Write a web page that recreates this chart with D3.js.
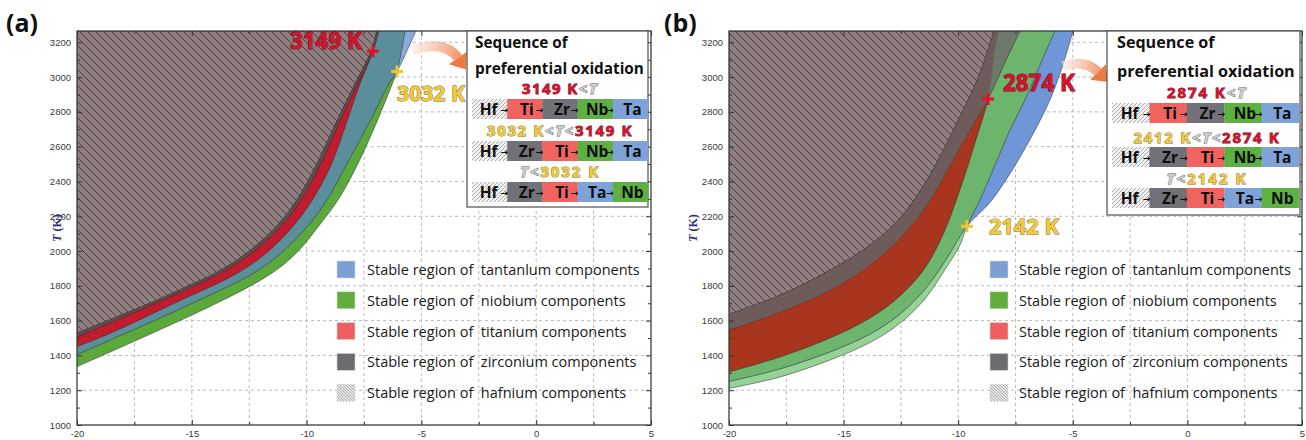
<!DOCTYPE html>
<html><head><meta charset="utf-8">
<script src="https://cdn.jsdelivr.net/npm/d3@7"></script>
<style>body{margin:0;background:#fff}svg{display:block}</style>
</head><body>
<svg id="c" width="1306" height="440"></svg>
<script>
// ---------------- DATA ----------------
const xDomain = [-20, 5];
const yDomain = [1000, 3265];
const xTicksMajor = [-20, -15, -10, -5, 0, 5];
const xTicksMinor = [-17.5, -12.5, -7.5, -2.5, 2.5];
const yTicksMajor = [1000, 1200, 1400, 1600, 1800, 2000, 2200, 2400, 2600, 2800, 3000, 3200];
const yTicksMinor = [1100, 1300, 1500, 1700, 1900, 2100, 2300, 2500, 2700, 2900, 3100];
const gridX = [-17.5, -15, -12.5, -10, -7.5, -5, -2.5, 0, 2.5];
const gridY = [1200, 1400, 1600, 1800, 2000, 2200, 2400, 2600, 2800, 3000, 3200];

// Panel (a) boundary curves  [x, T(K)]
const hfA = [[-20,1530],[-18.5,1610],[-16.83,1701],[-15.3,1792],[-13.9,1880],[-12.5,2000],[-11.2,2160],[-10.4,2300],[-9.6,2490],[-8.75,2730],[-7.9,2960],[-7.2,3149],[-6.95,3265]];
const zrA = [[-20,1505],[-16.55,1701],[-13.65,1880],[-12.27,2000],[-10.98,2160],[-10.2,2300],[-9.42,2490],[-8.6,2730],[-7.78,2960],[-7.11,3149],[-6.85,3265]];
const tiA = [[-20,1450],[-18.5,1530],[-15.74,1701],[-13.0,1874],[-11.7,1995],[-10.48,2160],[-9.72,2300],[-8.95,2490],[-8.28,2730],[-7.68,2960],[-7.11,3149],[-6.90,3265]];
const taA = [[-20,1405],[-14.95,1701],[-12.3,1874],[-11.05,1995],[-9.85,2160],[-9.08,2300],[-8.29,2490],[-7.3,2730],[-6.42,2960],[-6.06,3032],[-5.24,3265]];
const nbA = [[-20,1335],[-13.9,1701],[-11.5,1874],[-10.4,1995],[-9.38,2160],[-8.6,2300],[-7.81,2490],[-6.98,2730],[-6.27,2960],[-6.06,3032],[-5.71,3265]];

// Panel (b) boundary curves  [x, T(K)]
const hfB = [[-20,1638],[-17.78,1747],[-15.59,1891],[-13.85,2035],[-12.54,2190],[-11.45,2390],[-10.58,2600],[-9.83,2800],[-9.18,2983],[-8.70,3156],[-8.45,3265]];
const zrB = [[-20,1546],[-17.78,1650],[-15.59,1776],[-13.85,1920],[-12.54,2075],[-11.45,2250],[-10.58,2440],[-9.62,2667],[-8.70,2874],[-7.87,3110],[-7.30,3265]];
const tiB = [[-20,1305],[-17.78,1391],[-15.59,1500],[-13.85,1615],[-12.54,1742],[-11.45,1903],[-10.58,2120],[-9.83,2390],[-9.25,2630],[-8.70,2874],[-8.45,3098],[-8.25,3265]];
const taB = [[-20,1250],[-17.78,1322],[-15.59,1420],[-13.85,1522],[-12.54,1637],[-11.45,1780],[-10.58,1940],[-9.62,2142],[-8.61,2280],[-7.74,2445],[-6.87,2640],[-6.00,2868],[-5.43,3070],[-4.99,3265]];
const nbB = [[-20,1210],[-17.78,1276],[-15.59,1374],[-13.85,1474],[-12.54,1585],[-11.45,1725],[-10.58,1893],[-9.92,2035],[-9.62,2142],[-9.05,2294],[-8.39,2495],[-7.74,2696],[-7.09,2868],[-6.43,3070],[-5.78,3265]];

// crossing points and labels
const crossA = [[-7.11,3149],[-6.06,3032]];
const crossLabelsA = ["3149 K","3032 K"];
const crossB = [[-8.70,2874],[-9.62,2142]];
const crossLabelsB = ["2874 K","2142 K"];

// orange arrows (start, control, end) in data coords
const arrowA = [[-5.41,3156],[-3.97,3215],[-3.41,3110]];
const arrowB = [[-5.43,3064],[-4.47,3105],[-3.90,3029]];

const legendLabels = [
  "Stable region of  tantanlum components",
  "Stable region of  niobium components",
  "Stable region of  titanium components",
  "Stable region of  zirconium components",
  "Stable region of  hafnium components"
];
const insetTitle = ["Sequence of", "preferential oxidation"];
const condA = [
  [["3149 K","r"],["<","g"],["T","gi"]],
  [["3032 K","y"],["<","g"],["T","gi"],["<","g"],["3149 K","r"]],
  [["T","gi"],["<","g"],["3032 K","y"]]
];
const condB = [
  [["2874 K","r"],["<","g"],["T","gi"]],
  [["2412 K","y"],["<","g"],["T","gi"],["<","g"],["2874 K","r"]],
  [["T","gi"],["<","g"],["2142 K","y"]]
];
const orderA = [["Hf","Ti","Zr","Nb","Ta"],["Hf","Zr","Ti","Nb","Ta"],["Hf","Zr","Ti","Ta","Nb"]];
const orderB = [["Hf","Ti","Zr","Nb","Ta"],["Hf","Zr","Ti","Nb","Ta"],["Hf","Zr","Ti","Ta","Nb"]];

// ---------------- STYLE / LAYOUT ----------------
const segColor = {Ti:"#f0635e", Zr:"#727177", Nb:"#5db141", Ta:"#7fa3d8"};
const legendColors = ["#7c9fd3","#63ad3e","#ef5f5f","#6c6b70","url(#hatchLeg)"];
const sans = "'Open Sans','Noto Sans',sans-serif";

const panels = [
  {key:"a", left:77, right:651, top:31, bottom:425, labelX:6, ylabX:61,
   c:{hf:hfA, zr:zrA, ti:tiA, ta:taA, nb:nbA},
   f:{nbOnly:"#5ba83b", taOnly:"#8aabda", overlap:"#5a8e9b", ti:"#c21b2e", zr:"#634b4b", zrTi:null},
   cross:crossA, crossLab:crossLabelsA,
   crossOff:[{a:"end",dx:-11,dy:-2,w:72},{a:"start",dx:0,dy:29,w:68}],
   arrow:arrowA,
   legX:337, legTextX:367, legW:273,
   inset:{x0:467,x1:648,y0:31,y1:207,tx:475,tb:[48,74],tw:169,cx:560,cw:[76,146,80],cb:[94,136,177],bx0:472,bx1:648,by:[99,141,182]},
   cond:condA, order:orderA},
  {key:"b", left:729, right:1302, top:31, bottom:425, labelX:664, ylabX:697,
   c:{hf:hfB, zr:zrB, ti:tiB, ta:taB, nb:nbB},
   f:{nbOnly:"#96d296", taOnly:"#6f97d8", overlap:"#6db46d", ti:"#a8351d", zr:"#6d7a6b", zrTi:"#6e5c5a"},
   cross:crossB, crossLab:crossLabelsB,
   crossOff:[{a:"start",dx:15,dy:-8,w:72},{a:"start",dx:22,dy:8,w:70}],
   arrow:arrowB,
   legX:990, legTextX:1019, legW:272,
   inset:{x0:1107,x1:1300,y0:31,y1:215,tx:1117,tb:[48,77],tw:178,cx:1207,cw:[80,147,81],cb:[98,143,184],bx0:1112,bx1:1299,by:[103,147,188]},
   cond:condB, order:orderB}
];

const svg = d3.select("#c");
svg.append("rect").attr("width",1306).attr("height",440).attr("fill","#fff");
const defs = svg.append("defs");

function hatch(id, s, bg, fg, sw, dir){
  const p = defs.append("pattern").attr("id",id).attr("patternUnits","userSpaceOnUse")
    .attr("width",s).attr("height",s);
  p.append("rect").attr("width",s).attr("height",s).attr("fill",bg);
  const segs = dir === "\\"
    ? [[0,0,s,s],[-s,0,s,2*s],[0,-s,2*s,s]]
    : [[0,s,s,0],[-s,s,s,-s],[0,2*s,2*s,0]];
  segs.forEach(q => p.append("line").attr("x1",q[0]).attr("y1",q[1]).attr("x2",q[2]).attr("y2",q[3])
    .attr("stroke",fg).attr("stroke-width",sw));
}
hatch("hatchMain", 8, "#8e7e7f", "#4e4041", 1.0, "\\");
hatch("hatchLeg", 3, "#e4e4e4", "#8a8a8a", 0.6, "\\");
hatch("hatchSeg", 4, "#f2f2f2", "#9a9a9a", 0.8, "/");

function fit(sel, w){
  const L = sel.node().getComputedTextLength();
  const fs = parseFloat(sel.attr("font-size"));
  const n = fs * w / L;
  sel.attr("font-size", n);
  return n;
}
function spread(sel, w){
  const L = sel.node().getComputedTextLength();
  const n = sel.text().length;
  sel.attr("letter-spacing", Math.max(-1, (w - L) / n));
}

const tStyle = {
  r:{fill:"#d3142e", stroke:"#6d0a14"},
  y:{fill:"#f2ca3b", stroke:"#7d6512"},
  g:{fill:"#cfcfcf", stroke:"#5a5a5a"},
  gi:{fill:"#cfcfcf", stroke:"#5a5a5a", italic:true}
};

panels.forEach(P => {
  const x = d3.scaleLinear().domain(xDomain).range([P.left, P.right]);
  const y = d3.scaleLinear().domain(yDomain).range([P.bottom, P.top]);
  const g = svg.append("g");
  const clipId = "clip" + P.key;
  defs.append("clipPath").attr("id",clipId).append("rect")
    .attr("x",P.left).attr("y",P.top).attr("width",P.right-P.left).attr("height",P.bottom-P.top);

  // grid
  const grid = g.append("g").attr("clip-path",`url(#${clipId})`)
    .attr("stroke","#b9b9b9").attr("stroke-width",1).attr("stroke-dasharray","3,3");
  grid.selectAll(".gx").data(gridX).join("line")
    .attr("x1",d=>x(d)).attr("x2",d=>x(d)).attr("y1",P.top).attr("y2",P.bottom);
  grid.selectAll(".gy").data(gridY).join("line")
    .attr("y1",d=>y(d)).attr("y2",d=>y(d)).attr("x1",P.left).attr("x2",P.right);

  const crv = d3.curveCatmullRom.alpha(0.5);
  const area = d3.area().x(d=>x(d[0])).y0(y(yDomain[1])).y1(d=>y(d[1])).curve(crv);
  const line = d3.line().x(d=>x(d[0])).y(d=>y(d[1])).curve(crv);

  // clip regions for overlaps
  defs.append("clipPath").attr("id","nb"+P.key).append("path").attr("d",area(P.c.nb));
  defs.append("clipPath").attr("id","ti"+P.key).append("path").attr("d",area(P.c.ti));

  const fills = g.append("g").attr("clip-path",`url(#${clipId})`);
  const edge = {stroke:"#2b2b2b", w:0.7, op:0.75};
  fills.append("path").attr("d",area(P.c.nb)).attr("fill",P.f.nbOnly);
  fills.append("path").attr("d",area(P.c.ta)).attr("fill",P.f.taOnly);
  fills.append("g").attr("clip-path",`url(#nb${P.key})`)
    .append("path").attr("d",area(P.c.ta)).attr("fill",P.f.overlap);
  [P.c.nb, P.c.ta].forEach(cv => fills.append("path").attr("d",line(cv)).attr("fill","none")
    .attr("stroke",edge.stroke).attr("stroke-width",edge.w).attr("stroke-opacity",edge.op));
  fills.append("path").attr("d",area(P.c.ti)).attr("fill",P.f.ti)
    .attr("stroke",edge.stroke).attr("stroke-width",edge.w).attr("stroke-opacity",edge.op);
  fills.append("path").attr("d",area(P.c.zr)).attr("fill",P.f.zr)
    .attr("stroke",edge.stroke).attr("stroke-width",edge.w).attr("stroke-opacity",edge.op);
  if (P.f.zrTi) {
    fills.append("g").attr("clip-path",`url(#ti${P.key})`)
      .append("path").attr("d",area(P.c.zr)).attr("fill",P.f.zrTi);
  }
  fills.append("path").attr("d",area(P.c.hf)).attr("fill","url(#hatchMain)")
    .attr("stroke",edge.stroke).attr("stroke-width",edge.w).attr("stroke-opacity",edge.op);

  // axes
  const axStyle = s => {
    s.select(".domain").remove();
    s.selectAll("line").attr("stroke","#333");
    s.selectAll("text").attr("font-family","'Liberation Sans',Arial,sans-serif")
      .attr("font-size",9.5).attr("fill","#3a3a3a");
  };
  g.append("g").attr("transform",`translate(${P.left},0)`)
    .call(d3.axisLeft(y).tickValues(yTicksMajor).tickSize(-5).tickPadding(6).tickFormat(d=>String(d))).call(axStyle);
  g.append("g").attr("transform",`translate(${P.left},0)`)
    .call(d3.axisLeft(y).tickValues(yTicksMinor).tickSize(-3).tickFormat("")).call(axStyle);
  g.append("g").attr("transform",`translate(${P.right},0)`)
    .call(d3.axisRight(y).tickValues(yTicksMajor).tickSize(-5).tickFormat("")).call(axStyle);
  g.append("g").attr("transform",`translate(${P.right},0)`)
    .call(d3.axisRight(y).tickValues(yTicksMinor).tickSize(-3).tickFormat("")).call(axStyle);
  g.append("g").attr("transform",`translate(0,${P.bottom})`)
    .call(d3.axisBottom(x).tickValues(xTicksMajor).tickSize(-5).tickPadding(5).tickFormat(d=>String(d))).call(axStyle);
  g.append("g").attr("transform",`translate(0,${P.bottom})`)
    .call(d3.axisBottom(x).tickValues(xTicksMinor).tickSize(-3).tickFormat("")).call(axStyle);
  g.append("g").attr("transform",`translate(0,${P.top})`)
    .call(d3.axisTop(x).tickValues(xTicksMajor).tickSize(-5).tickFormat("")).call(axStyle);
  g.append("g").attr("transform",`translate(0,${P.top})`)
    .call(d3.axisTop(x).tickValues(xTicksMinor).tickSize(-3).tickFormat("")).call(axStyle);

  g.append("rect").attr("x",P.left).attr("y",P.top).attr("width",P.right-P.left).attr("height",P.bottom-P.top)
    .attr("fill","none").attr("stroke","#3c3c3c").attr("stroke-width",1.3);

  // y label
  const yl = g.append("text").attr("transform",`translate(${P.ylabX},${(P.top+P.bottom)/2}) rotate(-90)`)
    .attr("text-anchor","middle").attr("font-family","'Liberation Serif',serif").attr("font-weight","bold")
    .attr("font-size",12).attr("fill","#2c2c7c");
  yl.append("tspan").attr("font-style","italic").text("T");
  yl.append("tspan").text(" (K)");

  // panel label
  svg.append("text").attr("x",P.labelX).attr("y",32).attr("font-family",sans).attr("font-weight","bold")
    .attr("font-size",25).attr("fill","#111").text(`(${P.key})`);

  // legend
  const leg = g.append("g");
  let legFs = null;
  legendLabels.forEach((lab,i) => {
    const cy = 270 + i*30.8;
    leg.append("rect").attr("x",P.legX).attr("y",cy-9).attr("width",18).attr("height",17)
      .attr("fill",legendColors[i]).attr("stroke","#d8d8d8").attr("stroke-width",0.6);
    const t = leg.append("text").attr("x",P.legTextX).attr("y",cy+5).attr("font-family",sans)
      .attr("font-size",legFs || 14).attr("fill","#1a1a1a").attr("xml:space","preserve").text(lab);
    if (i===0) legFs = fit(t, P.legW);
  });

  // orange arrow
  const gid = "arrGrad"+P.key;
  const a0 = [x(P.arrow[0][0]), y(P.arrow[0][1])];
  const ac = [x(P.arrow[1][0]), y(P.arrow[1][1])];
  const a1 = [x(P.arrow[2][0]), y(P.arrow[2][1])];
  const gr = defs.append("linearGradient").attr("id",gid).attr("gradientUnits","userSpaceOnUse")
    .attr("x1",a0[0]).attr("y1",a0[1]).attr("x2",a1[0]+12).attr("y2",a1[1]);
  gr.append("stop").attr("offset",0).attr("stop-color","#fbe6dc").attr("stop-opacity",0.6);
  gr.append("stop").attr("offset",1).attr("stop-color","#ec7a44");
  const ap = d3.path(); ap.moveTo(a0[0],a0[1]); ap.quadraticCurveTo(ac[0],ac[1],a1[0],a1[1]);
  g.append("path").attr("d",ap.toString()).attr("fill","none").attr("stroke",`url(#${gid})`).attr("stroke-width",10);
  {
    let dx = a1[0]-ac[0], dy = a1[1]-ac[1]; const L = Math.hypot(dx,dy); dx/=L; dy/=L;
    const tip = [a1[0]+dx*14, a1[1]+dy*14];
    const b1 = [a1[0]-dy*11, a1[1]+dx*11], b2 = [a1[0]+dy*11, a1[1]-dx*11];
    g.append("path").attr("d",`M${b1}L${tip}L${b2}Z`).attr("fill","#ec7a44");
  }

  // inset
  const I = P.inset;
  const ins = g.append("g");
  ins.append("rect").attr("x",I.x0).attr("y",I.y0).attr("width",I.x1-I.x0).attr("height",I.y1-I.y0)
    .attr("fill","#fff").attr("stroke","#505050").attr("stroke-width",1.2);
  let tfs = null;
  [1,0].forEach(k => {
    const t = ins.append("text").attr("x",I.tx).attr("y",I.tb[k]).attr("font-family",sans).attr("font-weight","bold")
      .attr("font-size",tfs || 15).attr("fill","#111").text(insetTitle[k]);
    if (k===1) tfs = fit(t, I.tw);
  });
  [0,1,2].forEach(r => {
    const t = ins.append("text").attr("x",I.cx).attr("y",I.cb[r]).attr("text-anchor","middle")
      .attr("font-family",sans).attr("font-weight","bold").attr("font-size",15);
    P.cond[r].forEach(([s,k]) => {
      const st = tStyle[k];
      t.append("tspan").text(s).attr("fill",st.fill).attr("stroke",st.stroke).attr("stroke-width",0.8)
        .attr("paint-order","stroke").attr("font-style",st.italic?"italic":null);
    });
    spread(t, I.cw[r]);
  });
  const sw = (I.bx1-I.bx0)/5;
  P.order.forEach((row, r) => {
    row.forEach((el, j) => {
      const sx = I.bx0 + j*sw;
      ins.append("rect").attr("x",sx).attr("y",I.by[r]).attr("width",sw+0.3).attr("height",20)
        .attr("fill", el==="Hf" ? "url(#hatchSeg)" : segColor[el]);
      ins.append("text").attr("x",sx+sw/2+(j===0?-1:2)).attr("y",I.by[r]+16).attr("text-anchor","middle")
        .attr("font-family",sans).attr("font-weight","bold").attr("font-size",15.5).attr("fill","#0d0d0d").text(el);
      if (j>0) ins.append("text").attr("x",sx-3).attr("y",I.by[r]+14).attr("text-anchor","middle")
        .attr("font-family","'DejaVu Sans',sans-serif").attr("font-weight","bold").attr("font-size",9).attr("fill","#0d0d0d").text("→");
    });
  });

  // crossing markers
  const crossCol = ["#e3122b", "#f0c52e"];
  const labStyle = [tStyle.r, tStyle.y];
  P.cross.forEach((c,i) => {
    const cx = x(c[0]), cy = y(c[1]);
    g.append("path").attr("d",`M${cx-6},${cy}H${cx+6}M${cx},${cy-6}V${cy+6}`)
      .attr("stroke",crossCol[i]).attr("stroke-width",3);
    const o = P.crossOff[i];
    const t = g.append("text").attr("x",cx+o.dx).attr("y",cy+o.dy).attr("text-anchor",o.a)
      .attr("font-family",sans).attr("font-weight","bold").attr("font-size",20)
      .attr("fill",labStyle[i].fill).attr("stroke",labStyle[i].stroke).attr("stroke-width",0.9)
      .attr("paint-order","stroke").text(P.crossLab[i]);
    fit(t, o.w);
  });
});
</script>
</body></html>
